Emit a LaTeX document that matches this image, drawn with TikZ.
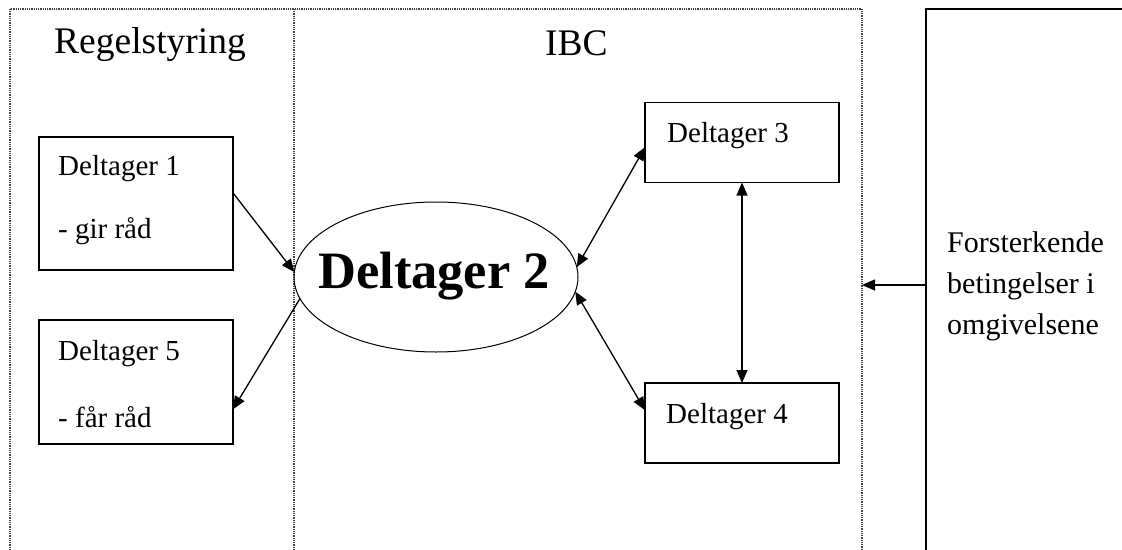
\documentclass[tikz,border=0pt]{standalone}
\usepackage{fontspec}
\setmainfont{Liberation Serif}
\usetikzlibrary{arrows.meta,shapes.geometric,calc}
\begin{document}
\begin{tikzpicture}[x=1pt,y=-1pt,
  box/.style={draw,line width=1.3pt,minimum width=194pt,inner sep=0pt,outer sep=0pt},
  dotframe/.style={draw=black!75,line width=1.2pt,dash pattern=on 1pt off 0.8pt},
  txt/.style={anchor=base west,inner sep=0pt,font=\fontsize{29}{29}\selectfont},
  bigtxt/.style={anchor=base west,inner sep=0pt,font=\fontsize{37.5}{37.5}\selectfont},
  arr/.style={line width=1.3pt,-{Triangle[length=13pt,width=11pt]}},
  darr/.style={line width=1.3pt,{Triangle[length=13pt,width=11pt]}-{Triangle[length=13pt,width=11pt]}}]
\clip (0,0) rectangle (1122,549);
\fill[white] (0,0) rectangle (1122,549);

% frames
\draw[dotframe] (10,9) rectangle (862,570);
\draw[dotframe] (294,9) -- (294,570);
\node[draw,line width=1.3pt,inner sep=0pt,outer sep=0pt,minimum width=220pt,minimum height=560pt,anchor=north west] (rbox) at (926,9) {};

% titles
\node[bigtxt] (regel) at (54,53) {Regelstyring};
\node[bigtxt] (ibc) at (545,55) {IBC};

% boxes
\node[box,minimum height=133pt] (d1box) at (136,203.5) {};
\node[box,minimum height=124pt] (d5box) at (136,382) {};
\node[box,minimum height=80pt] (d3box) at (742,142.5) {};
\node[box,minimum height=80pt] (d4box) at (742,423) {};
\node[draw,line width=1pt,ellipse,minimum width=284pt,minimum height=150pt,inner sep=0pt,outer sep=0pt] (d2) at (436,277) {};

% texts
\node[txt] (d1a) at (58,175) {Deltager 1};
\node[txt] (d1b) at (58,238) {- gir råd};
\node[txt] (d5a) at (58,360) {Deltager 5};
\node[txt] (d5b) at (58,427) {- får råd};
\node[txt] (d3t) at (667,142) {Deltager 3};
\node[txt] (d4t) at (666,423) {Deltager 4};
\node[anchor=base west,inner sep=0pt,font=\fontsize{52.5}{52.5}\selectfont\bfseries] (d2t) at (318,288) {Deltager 2};
\node[txt,font=\fontsize{30}{30}\selectfont] (r1) at (947,252) {Forsterkende};
\node[txt,font=\fontsize{30}{30}\selectfont] (r2) at (947,293) {betingelser i};
\node[txt,font=\fontsize{30}{30}\selectfont] (r3) at (947,334) {omgivelsene};

% connectors
\coordinate (ibcedge) at (862,285);
\draw[arr] ($(d1box.north east)!0.42!(d1box.south east)$) -- (d2.178);
\draw[arr] (d2.189) -- ($(d5box.north east)!0.72!(d5box.south east)$);
\draw[darr] (d2.4) -- ($(d3box.north west)!0.56!(d3box.south west)$);
\draw[darr] (d2.354) -- ($(d4box.north west)!0.34!(d4box.south west)$);
\draw[darr] (d3box.south) -- (d4box.north);
\draw[arr] ($(rbox.north west)+(0,276)$) -- (ibcedge);
\end{tikzpicture}
\end{document}
